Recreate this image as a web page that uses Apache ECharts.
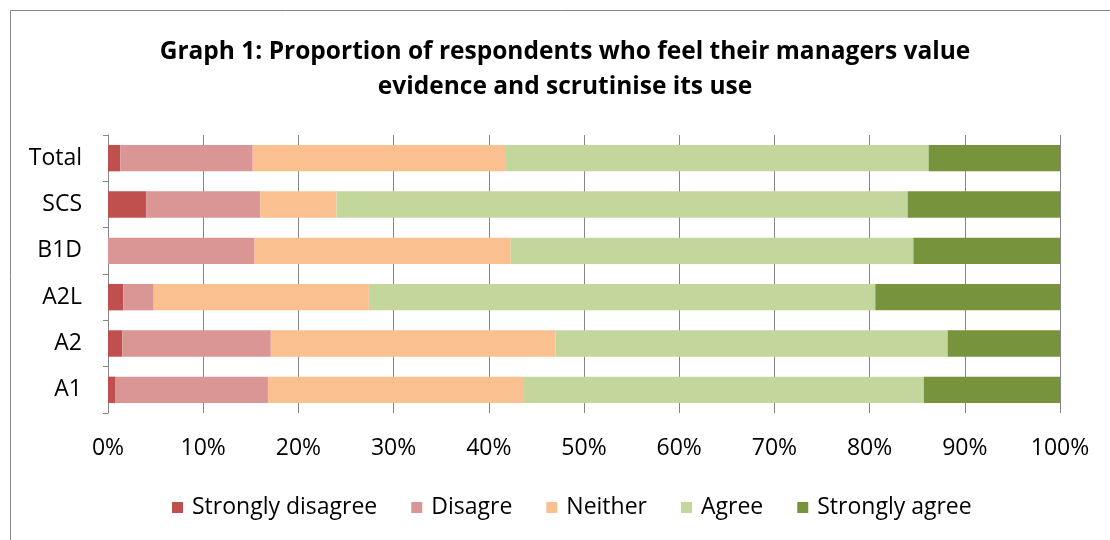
<!DOCTYPE html>
<html>
<head>
<meta charset="utf-8">
<script src="https://cdn.jsdelivr.net/npm/echarts@6/dist/echarts.min.js"></script>
<style>
  html, body { margin: 0; padding: 0; background: #fff; }
  #chart { width: 1110px; height: 540px; }
</style>
</head>
<body>
<div id="chart"></div>
<script>
// Survey groups, bottom to top on the category axis
const categories = ['A1', 'A2', 'A2L', 'B1D', 'SCS', 'Total'];

// Share of respondents (%) per response, same order as categories
const stronglyDisagree = [0.8, 1.5, 1.6, 0, 4.0, 1.3];
const disagree         = [16.0, 15.6, 3.2, 15.4, 12.0, 13.9];
const neither          = [26.9, 29.9, 22.6, 26.9, 8.0, 26.6];
const agree            = [42.0, 41.2, 53.2, 42.3, 60.0, 44.4];
const stronglyAgree    = [14.3, 11.8, 19.4, 15.4, 16.0, 13.8];

const seriesNames = ['Strongly disagree', 'Disagre', 'Neither', 'Agree', 'Strongly agree'];
const seriesData = [stronglyDisagree, disagree, neither, agree, stronglyAgree];
const colors = ['#C0504D', '#D99694', '#FAC090', '#C3D69B', '#77933C'];

const FONT = 'Open Sans';

const chart = echarts.init(document.getElementById('chart'), null, { renderer: 'canvas' });

chart.setOption({
  animation: false,
  backgroundColor: '#ffffff',
  title: {
    text: 'Graph 1: Proportion of respondents who feel their managers value\nevidence and scrutinise its use',
    left: 560,
    textAlign: 'center',
    top: 30,
    textStyle: {
      fontFamily: FONT,
      fontWeight: 'bold',
      fontSize: 24.5,
      lineHeight: 35,
      color: '#000'
    }
  },
  graphic: [{
    type: 'rect',
    shape: { x: 10.5, y: 10.5, width: 1110, height: 540 },
    style: { fill: 'none', stroke: '#868686', lineWidth: 1 },
    silent: true
  }],
  legend: {
    bottom: 16,
    left: 167,
    itemWidth: 11,
    itemHeight: 11,
    itemGap: 34,
    icon: 'rect',
    textStyle: { fontFamily: FONT, fontSize: 23, color: '#000', padding: [0, 0, 0, 4] },
    data: seriesNames
  },
  grid: {
    left: 108,
    right: 50,
    top: 135,
    bottom: 127,
    containLabel: false
  },
  xAxis: {
    type: 'value',
    min: 0,
    max: 100,
    interval: 10,
    axisLabel: {
      formatter: '{value}%',
      fontFamily: FONT,
      fontSize: 23,
      color: '#000',
      margin: 24
    },
    axisLine: { show: false },
    axisTick: { show: false },
    splitLine: { show: true, lineStyle: { color: '#868686', width: 1 } }
  },
  yAxis: {
    type: 'category',
    data: categories,
    axisLabel: {
      fontFamily: FONT,
      fontSize: 23,
      color: '#000',
      margin: 26
    },
    axisLine: { show: true, lineStyle: { color: '#868686', width: 1 } },
    axisTick: { show: true, length: 5, lineStyle: { color: '#868686' } }
  },
  series: seriesNames.map((name, i) => ({
    name: name,
    type: 'bar',
    stack: 'total',
    barWidth: '57%',
    data: seriesData[i],
    itemStyle: { color: colors[i] }
  }))
});
</script>
</body>
</html>
